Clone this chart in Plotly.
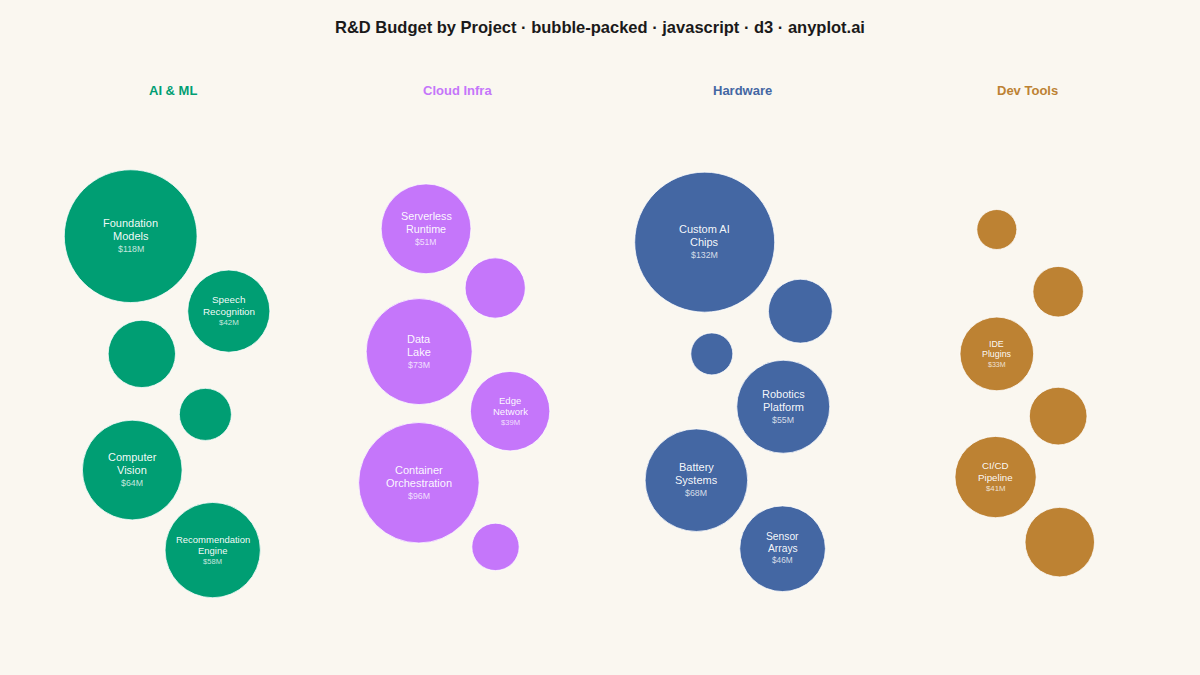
import math
import plotly.graph_objects as go

# ---------------- data ----------------
groups = ["AI & ML", "Cloud Infra", "Hardware", "Dev Tools"]
group_colors = ["#009E73", "#C576FA", "#4467A3", "#BD8233"]

ai_ml_projects = ["Foundation Models", "Speech Recognition", "AI Safety Research",
                  "Edge Inference", "Computer Vision", "Recommendation Engine"]
ai_ml_budget = [118, 42, 27, 15, 64, 58]

cloud_projects = ["Serverless Runtime", "Observability Stack", "Data Lake",
                  "Edge Network", "Container Orchestration", "Backup Systems"]
cloud_budget = [51, 21, 73, 39, 96, 12]

hardware_projects = ["Custom AI Chips", "Thermal Management", "Firmware Tools",
                     "Robotics Platform", "Battery Systems", "Sensor Arrays"]
hardware_budget = [132, 24, 9, 55, 68, 46]

devtools_projects = ["Linting Tools", "API Docs Portal", "IDE Plugins",
                     "Code Review Bots", "CI/CD Pipeline", "Testing Framework"]
devtools_budget = [8, 14, 33, 19, 41, 29]

project_lists = [ai_ml_projects, cloud_projects, hardware_projects, devtools_projects]
budget_lists = [ai_ml_budget, cloud_budget, hardware_budget, devtools_budget]

# ---------------- layout parameters ----------------
W, H = 1200, 675
band_x0, band_x1 = 30, 1170
band_w = (band_x1 - band_x0) / len(groups)
cluster_y = 385
r_min, r_max = 20, 70
pad = 8

all_vals = [v for b in budget_lists for v in b]
vmin, vmax = min(all_vals), max(all_vals)


def radius(v):
    t = (math.sqrt(v) - math.sqrt(vmin)) / (math.sqrt(vmax) - math.sqrt(vmin))
    return r_min + t * (r_max - r_min)


# ---------------- force-style layout (d3-like simulation) ----------------
nodes = []
for gi, (names, vals) in enumerate(zip(project_lists, budget_lists)):
    cx = band_x0 + band_w * (gi + 0.5)
    m = len(names)
    for k, (nm, v) in enumerate(zip(names, vals)):
        side = -1 if k % 2 == 0 else 1
        nodes.append(dict(g=gi, name=nm, v=v, r=radius(v), tx=cx, ty=cluster_y,
                          x=cx + side * 88, y=cluster_y + (k - (m - 1) / 2) * 86,
                          vx=0.0, vy=0.0))

alpha, alpha_min = 1.0, 0.001
alpha_decay = 1 - alpha_min ** (1 / 300)
vel_decay = 0.4
sx, sy = 0.016, 0.005
while alpha > alpha_min:
    alpha += (0 - alpha) * alpha_decay
    for nd in nodes:
        nd["vx"] += (nd["tx"] - nd["x"]) * sx * alpha
        nd["vy"] += (nd["ty"] - nd["y"]) * sy * alpha
    n = len(nodes)
    for i in range(n):
        a = nodes[i]
        ri = a["r"] + pad
        for j in range(i + 1, n):
            b = nodes[j]
            rj = b["r"] + pad
            dx = (a["x"] + a["vx"]) - (b["x"] + b["vx"])
            dy = (a["y"] + a["vy"]) - (b["y"] + b["vy"])
            rs = ri + rj
            l2 = dx * dx + dy * dy
            if l2 < rs * rs and l2 > 0:
                l = math.sqrt(l2)
                f = (rs - l) / l * 0.8
                dx *= f
                dy *= f
                wi = rj * rj / (ri * ri + rj * rj)
                a["vx"] += dx * wi
                a["vy"] += dy * wi
                b["vx"] -= dx * (1 - wi)
                b["vy"] -= dy * (1 - wi)
    for nd in nodes:
        nd["vx"] *= (1 - vel_decay)
        nd["vy"] *= (1 - vel_decay)
        nd["x"] += nd["vx"]
        nd["y"] += nd["vy"]
        nd["x"] = min(max(nd["x"], nd["r"] + 5), W - nd["r"] - 5)
        nd["y"] = min(max(nd["y"], 125 + nd["r"]), H - 20 - nd["r"])

# ---------------- figure ----------------
fig = go.Figure()
FONT = "Liberation Sans, Arial, Helvetica, sans-serif"

for gi, g in enumerate(groups):
    gn = [nd for nd in nodes if nd["g"] == gi]
    fig.add_trace(go.Scatter(
        x=[nd["x"] for nd in gn], y=[nd["y"] for nd in gn],
        mode="markers",
        marker=dict(size=[2 * nd["r"] for nd in gn], sizemode="diameter",
                    color=group_colors[gi], opacity=1,
                    line=dict(color="rgba(255,255,255,0.75)", width=1)),
        customdata=[[nd["name"], nd["v"]] for nd in gn],
        hovertemplate="%{customdata[0]}<br>$%{customdata[1]}M<extra>" + g + "</extra>",
        name=g, showlegend=False,
    ))

annotations = []
for nd in nodes:
    r = nd["r"]
    if r < 36:
        continue
    words = nd["name"].split(" ")
    lines = [" ".join(words[:-1]), words[-1]] if len(words) > 1 else [nd["name"]]
    longest = max(len(s) for s in lines)
    fs = min(11, 0.24 * r, 0.78 * 2 * r / (0.56 * longest))
    vfs = 0.8 * fs
    offs = [-1.16 * fs, 0.0] if len(lines) == 2 else [-0.6 * fs]
    for s, o in zip(lines, offs):
        annotations.append(dict(x=nd["x"], y=nd["y"] + o, text=s, showarrow=False,
                                xanchor="center", yanchor="middle",
                                font=dict(family=FONT, size=fs, color="rgba(255,255,255,0.96)")))
    annotations.append(dict(x=nd["x"], y=nd["y"] + offs[-1] + 1.18 * fs, text=f"${nd['v']}M",
                            showarrow=False, xanchor="center", yanchor="middle",
                            font=dict(family=FONT, size=vfs, color="rgba(255,255,255,0.78)")))

for gi, g in enumerate(groups):
    annotations.append(dict(x=band_x0 + band_w * (gi + 0.5), y=90, text=g, showarrow=False,
                            xanchor="center", yanchor="middle",
                            font=dict(family=FONT, size=13, color=group_colors[gi], weight="bold")))

annotations.append(dict(x=600, y=27, text="R&D Budget by Project · bubble-packed · javascript · d3 · anyplot.ai",
                        showarrow=False, xanchor="center", yanchor="middle",
                        font=dict(family=FONT, size=16.5, color="#1a1a1a", weight="bold")))

fig.update_layout(
    width=W, height=H,
    margin=dict(l=0, r=0, t=0, b=0),
    paper_bgcolor="#FAF7F0", plot_bgcolor="#FAF7F0",
    xaxis=dict(range=[0, W], visible=False, fixedrange=True),
    yaxis=dict(range=[H, 0], visible=False, fixedrange=True),
    annotations=annotations,
    hoverlabel=dict(font_family=FONT),
)

fig.write_html("out.html", config={"displayModeBar": False},
               post_script="document.body.style.margin='0px';document.body.style.overflow='hidden';")
